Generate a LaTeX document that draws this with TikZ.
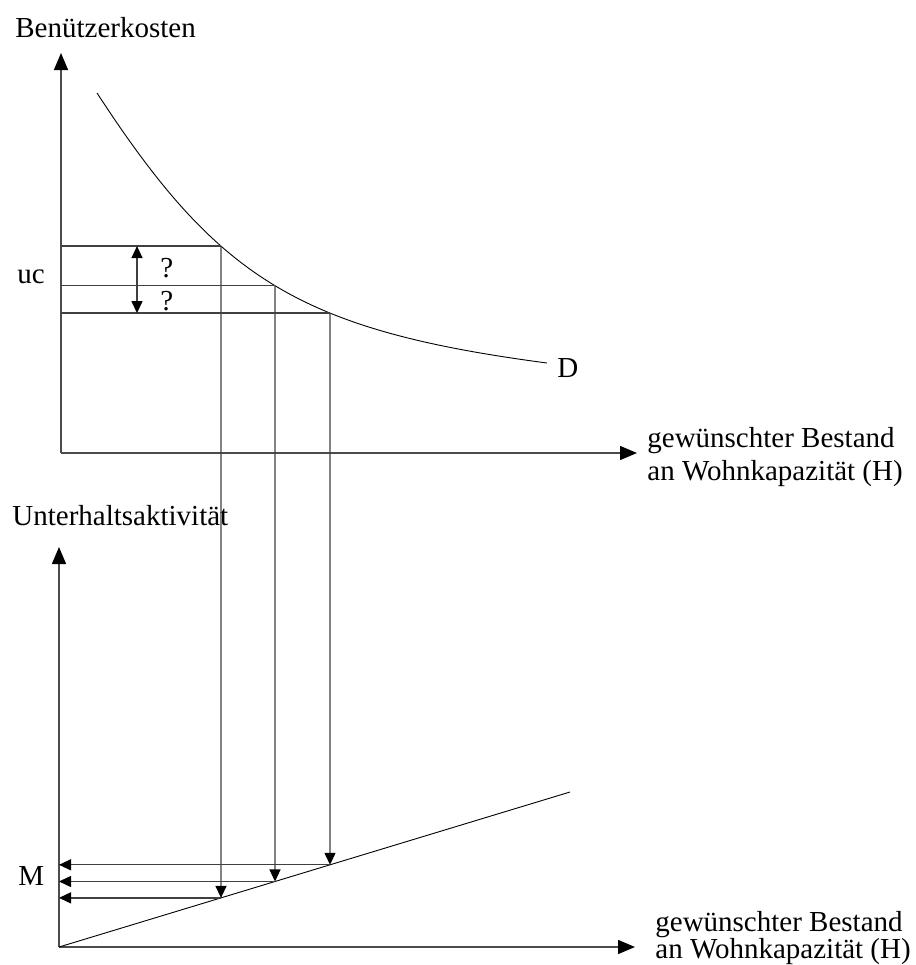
\documentclass[tikz,border=0pt]{standalone}
\usepackage{fontspec}
\setmainfont{Liberation Serif}
\usetikzlibrary{arrows.meta, intersections}

\begin{document}
\begin{tikzpicture}[x=0.5pt, y=-0.5pt, font=\fontsize{14.5}{16.5}\selectfont,
       axisline/.style={draw=black!70, line width=0.7pt, -{Triangle[length=8.5pt, width=7pt, color=black]}},
       guide/.style={draw=black!75, line width=0.65pt},
       tip/.style={guide, -{Triangle[length=6pt, width=5.5pt, color=black]}},
       thinline/.style={draw=black, line width=0.45pt},
       lbl/.style={inner sep=0pt, anchor=base west},
       axlbl/.style={inner sep=0pt, anchor=north west, align=left}]
     \useasboundingbox (0,0) rectangle (916,965);
     % upper panel
     \coordinate (O1) at (61,453);
     \coordinate (Y1) at (61,53);
     \coordinate (X1) at (637,453);
     \coordinate (mid) at (137,284);
     % lower panel
     \coordinate (O2) at (59,947);
     \coordinate (Y2) at (59,547);
     \coordinate (X2) at (635,947);
     \coordinate (S) at (570,792);

     \node[lbl] (ylabA) at (15,37) {Benützerkosten};
     \node[lbl] (ylabB) at (12,525) {Unterhaltsaktivität};
     \node[lbl] (uc) at (17,283) {uc};
     \node[lbl] (M) at (18,885) {M};
     \node[lbl] (D) at (557,377) {D};
     \node[lbl] (q1) at (160,277) {?};
     \node[lbl] (q2) at (160,310) {?};
     \node[axlbl] (xlabA) at (647,427) {gewünschter Bestand\\an Wohnkapazität (H)};
     \node[axlbl, font=\fontsize{14.5}{13.4}\selectfont] (xlabB) at (655,911)
        {gewünschter Bestand\\an Wohnkapazität (H)};

     \draw[axisline] (O1) -- (Y1);
     \draw[axisline] (O1) -- (X1);
     \draw[axisline] (O2) -- (Y2);
     \draw[axisline] (O2) -- (X2);

     \draw[thinline, name path=demand] (97,93) .. controls (217,277) and (297,330) .. (547,363);
     \draw[thinline, name path=upkeep] (O2) -- (S);

     \path[name path=vA] (221,0) -- (221,965);
     \path[name path=vB] (275,0) -- (275,965);
     \path[name path=vC] (330,0) -- (330,965);
     \path[name intersections={of=demand and vA, by=c1}];
     \path[name intersections={of=demand and vB, by=c2}];
     \path[name intersections={of=demand and vC, by=c3}];
     \path[name intersections={of=upkeep and vA, by=m1}];
     \path[name intersections={of=upkeep and vB, by=m2}];
     \path[name intersections={of=upkeep and vC, by=m3}];

     \draw[guide] (c1 -| O1) -- (c1);
     \draw[guide] (c2 -| O1) -- (c2);
     \draw[guide] (c3 -| O1) -- (c3);
     \draw[tip] (mid |- c2) -- (mid |- c1);
     \draw[tip] (mid |- c2) -- (mid |- c3);

     \draw[tip] (c1) -- (m1);
     \draw[tip] (c2) -- (m2);
     \draw[tip] (c3) -- (m3);
     \draw[tip] (m1) -- (m1 -| O2);
     \draw[tip] (m2) -- (m2 -| O2);
     \draw[tip] (m3) -- (m3 -| O2);
   \end{tikzpicture}
\end{document}
